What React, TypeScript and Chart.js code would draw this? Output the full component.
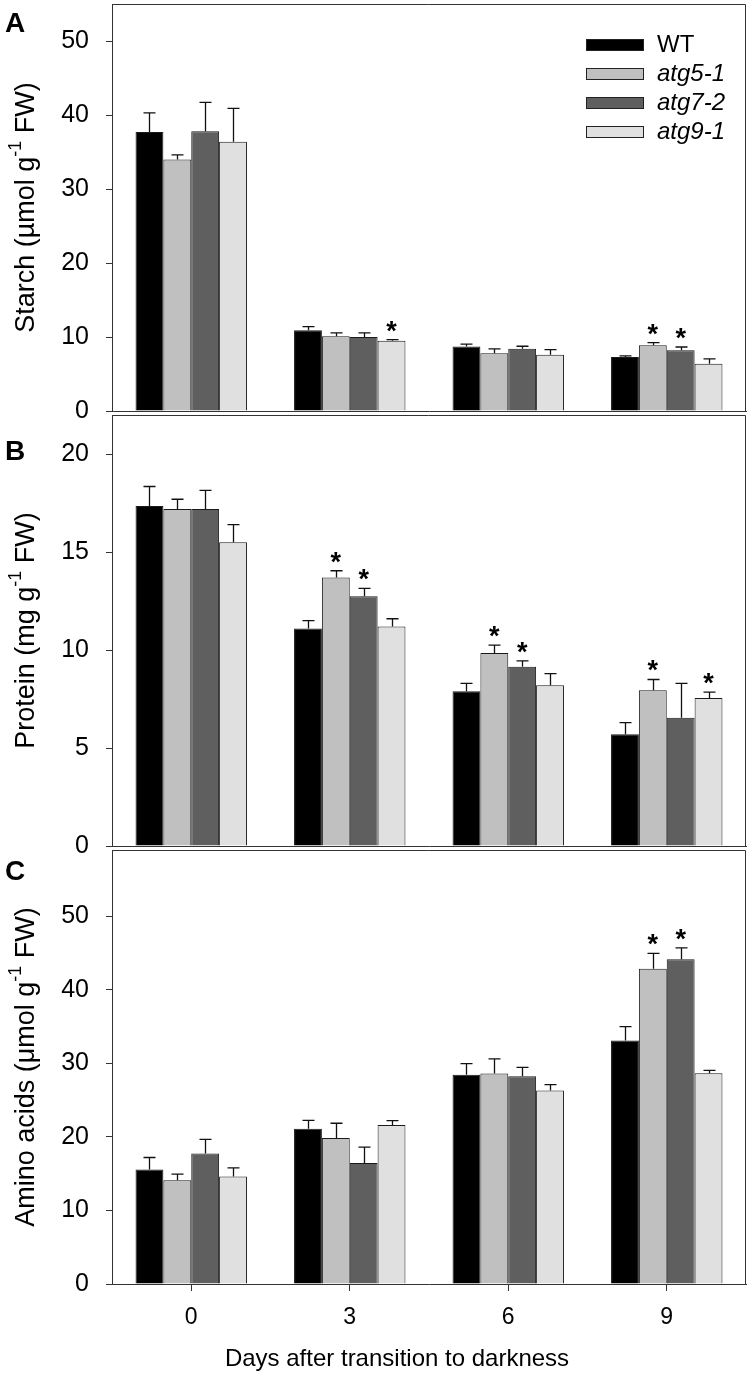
import React, { useEffect, useRef } from 'react';
import { Chart, registerables } from 'chart.js';

Chart.register(...registerables);

const FONT = '"Liberation Sans", Arial, Helvetica, sans-serif';
const PAGE_W = 749;
const PAGE_H = 1376;
const PAD_T = 30;
const PAD_B = 30;

const DAYS = ['0', '3', '6', '9'];
const LINES = ['WT', 'atg5-1', 'atg7-2', 'atg9-1'];
const COLORS = ['#000000', '#c0c0c0', '#5f5f5f', '#e0e0e0'];

// Panel A: starch (µmol g-1 FW)
const STARCH_WT = [37.7, 10.9, 8.7, 7.3];
const STARCH_ATG5 = [34.0, 10.1, 7.8, 8.9];
const STARCH_ATG7 = [37.8, 10.0, 8.4, 8.2];
const STARCH_ATG9 = [36.4, 9.5, 7.6, 6.4];
const STARCH_WT_ERR = [2.6, 0.5, 0.35, 0.15];
const STARCH_ATG5_ERR = [0.6, 0.45, 0.6, 0.35];
const STARCH_ATG7_ERR = [3.9, 0.55, 0.35, 0.45];
const STARCH_ATG9_ERR = [4.5, 0.15, 0.7, 0.65];
const STARCH_WT_SIG = [0, 0, 0, 0];
const STARCH_ATG5_SIG = [0, 0, 0, 1];
const STARCH_ATG7_SIG = [0, 0, 0, 1];
const STARCH_ATG9_SIG = [0, 1, 0, 0];

// Panel B: protein (mg g-1 FW)
const PROTEIN_WT = [17.35, 11.1, 7.9, 5.7];
const PROTEIN_ATG5 = [17.2, 13.7, 9.85, 7.95];
const PROTEIN_ATG7 = [17.2, 12.75, 9.15, 6.55];
const PROTEIN_ATG9 = [15.5, 11.2, 8.2, 7.55];
const PROTEIN_WT_ERR = [1.0, 0.4, 0.4, 0.6];
const PROTEIN_ATG5_ERR = [0.5, 0.35, 0.4, 0.55];
const PROTEIN_ATG7_ERR = [0.95, 0.4, 0.3, 1.75];
const PROTEIN_ATG9_ERR = [0.9, 0.4, 0.6, 0.3];
const PROTEIN_WT_SIG = [0, 0, 0, 0];
const PROTEIN_ATG5_SIG = [0, 1, 1, 1];
const PROTEIN_ATG7_SIG = [0, 1, 1, 0];
const PROTEIN_ATG9_SIG = [0, 0, 0, 1];

// Panel C: amino acids (µmol g-1 FW)
const AMINO_WT = [15.55, 21.1, 28.45, 33.1];
const AMINO_ATG5 = [14.1, 19.85, 28.6, 42.85];
const AMINO_ATG7 = [17.75, 16.45, 28.25, 44.15];
const AMINO_ATG9 = [14.6, 21.6, 26.3, 28.65];
const AMINO_WT_ERR = [1.65, 1.15, 1.5, 1.9];
const AMINO_ATG5_ERR = [0.85, 2.0, 2.0, 2.1];
const AMINO_ATG7_ERR = [1.9, 2.15, 1.2, 1.55];
const AMINO_ATG9_ERR = [1.2, 0.6, 0.8, 0.4];
const AMINO_WT_SIG = [0, 0, 0, 0];
const AMINO_ATG5_SIG = [0, 0, 0, 1];
const AMINO_ATG7_SIG = [0, 0, 0, 1];
const AMINO_ATG9_SIG = [0, 0, 0, 0];

const X_TITLE = 'Days after transition to darkness';

type PanelCfg = {
  letter: string;
  letterBaseline: number;
  plotTop: number;
  plotBottom: number;
  yMax: number;
  step: number;
  titleParts: [string, string, string];
  values: number[][];
  errs: number[][];
  sigs: number[][];
  showX: boolean;
  legend: boolean;
};

const PANELS: PanelCfg[] = [
  {
    letter: 'A', letterBaseline: 32, plotTop: 2, plotBottom: 413, yMax: 55, step: 10,
    titleParts: ['Starch (µmol g', '-1', ' FW)'],
    values: [STARCH_WT, STARCH_ATG5, STARCH_ATG7, STARCH_ATG9],
    errs: [STARCH_WT_ERR, STARCH_ATG5_ERR, STARCH_ATG7_ERR, STARCH_ATG9_ERR],
    sigs: [STARCH_WT_SIG, STARCH_ATG5_SIG, STARCH_ATG7_SIG, STARCH_ATG9_SIG],
    showX: false, legend: true,
  },
  {
    letter: 'B', letterBaseline: 460, plotTop: 413, plotBottom: 848, yMax: 22, step: 5,
    titleParts: ['Protein (mg g', '-1', ' FW)'],
    values: [PROTEIN_WT, PROTEIN_ATG5, PROTEIN_ATG7, PROTEIN_ATG9],
    errs: [PROTEIN_WT_ERR, PROTEIN_ATG5_ERR, PROTEIN_ATG7_ERR, PROTEIN_ATG9_ERR],
    sigs: [PROTEIN_WT_SIG, PROTEIN_ATG5_SIG, PROTEIN_ATG7_SIG, PROTEIN_ATG9_SIG],
    showX: false, legend: false,
  },
  {
    letter: 'C', letterBaseline: 880, plotTop: 848, plotBottom: 1284, yMax: 59, step: 10,
    titleParts: ['Amino acids (μmol g', '-1', ' FW)'],
    values: [AMINO_WT, AMINO_ATG5, AMINO_ATG7, AMINO_ATG9],
    errs: [AMINO_WT_ERR, AMINO_ATG5_ERR, AMINO_ATG7_ERR, AMINO_ATG9_ERR],
    sigs: [AMINO_WT_SIG, AMINO_ATG5_SIG, AMINO_ATG7_SIG, AMINO_ATG9_SIG],
    showX: true, legend: false,
  },
];

function Panel({ cfg }: { cfg: PanelCfg }) {
  const ref = useRef<HTMLCanvasElement>(null);
  const canvasTop = cfg.plotTop - PAD_T;
  const xAxisH = cfg.showX ? PAGE_H - cfg.plotBottom : 0;
  const padB = cfg.showX ? 0 : PAD_B;
  const height = cfg.showX ? PAGE_H - canvasTop : cfg.plotBottom - cfg.plotTop + PAD_T + PAD_B;

  useEffect(() => {
    const canvas = ref.current;
    if (!canvas) return;

    const decor = {
      id: 'decor',
      afterDatasetsDraw(chart: any) {
        const ctx = chart.ctx as CanvasRenderingContext2D;
        const ys = chart.scales.y;
        chart.data.datasets.forEach((ds: any, i: number) => {
          const meta = chart.getDatasetMeta(i);
          meta.data.forEach((bar: any, j: number) => {
            const v = ds.data[j];
            const e = cfg.errs[i][j];
            const yTop = ys.getPixelForValue(v + e);
            const x = Math.round(bar.x) + 0.5;
            ctx.save();
            ctx.strokeStyle = '#111';
            ctx.lineWidth = 1.3;
            ctx.beginPath();
            ctx.moveTo(x, bar.y);
            ctx.lineTo(x, yTop);
            ctx.moveTo(x - 6, yTop);
            ctx.lineTo(x + 6, yTop);
            ctx.stroke();
            if (cfg.sigs[i][j]) {
              ctx.fillStyle = '#000';
              ctx.font = `bold 27px ${FONT}`;
              ctx.textAlign = 'center';
              ctx.textBaseline = 'alphabetic';
              ctx.fillText('*', bar.x, yTop + 0);
            }
            ctx.restore();
          });
        });
      },
      afterDraw(chart: any) {
        const ctx = chart.ctx as CanvasRenderingContext2D;
        const area = chart.chartArea;
        ctx.save();
        // frame: top and right
        ctx.strokeStyle = '#333';
        ctx.lineWidth = 1;
        ctx.beginPath();
        const rx = Math.round(area.right) - 0.5;
        const ty = Math.round(area.top) + 0.5;
        ctx.moveTo(area.left, ty);
        ctx.lineTo(rx, ty);
        ctx.moveTo(rx, ty);
        ctx.lineTo(rx, area.bottom);
        ctx.stroke();

        // panel letter
        ctx.fillStyle = '#000';
        ctx.font = `bold 28px ${FONT}`;
        ctx.textAlign = 'left';
        ctx.textBaseline = 'alphabetic';
        ctx.fillText(cfg.letter, 5, cfg.letterBaseline - canvasTop);

        // y title with superscript
        const cy = (area.top + area.bottom) / 2;
        const cx = 27;
        const mainFont = `27px ${FONT}`;
        const supFont = `18px ${FONT}`;
        ctx.font = mainFont;
        const w0 = ctx.measureText(cfg.titleParts[0]).width;
        const w2 = ctx.measureText(cfg.titleParts[2]).width;
        ctx.font = supFont;
        const w1 = ctx.measureText(cfg.titleParts[1]).width;
        const total = w0 + w1 + w2;
        ctx.translate(cx, cy);
        ctx.rotate(-Math.PI / 2);
        ctx.textAlign = 'left';
        ctx.textBaseline = 'middle';
        let pos = -total / 2;
        ctx.font = mainFont;
        ctx.fillText(cfg.titleParts[0], pos, 0);
        pos += w0;
        ctx.font = supFont;
        ctx.fillText(cfg.titleParts[1], pos, -11);
        pos += w1;
        ctx.font = mainFont;
        ctx.fillText(cfg.titleParts[2], pos, 0);
        ctx.restore();

        // legend
        if (cfg.legend) {
          ctx.save();
          const rows = [44, 73.3, 102.7, 131.7];
          LINES.forEach((name, i) => {
            const yc = rows[i] - canvasTop;
            ctx.fillStyle = COLORS[i];
            ctx.fillRect(586.5, Math.round(yc - 5.5) + 0.5, 57, 11);
            ctx.strokeStyle = '#222';
            ctx.lineWidth = 1;
            ctx.strokeRect(586.5, Math.round(yc - 5.5) + 0.5, 57, 11);
            ctx.fillStyle = '#000';
            ctx.font = `${i === 0 ? '' : 'italic '}24px ${FONT}`;
            ctx.textAlign = 'left';
            ctx.textBaseline = 'middle';
            ctx.fillText(name, 657, yc + 1);
          });
          ctx.restore();
        }

        // x title
        if (cfg.showX) {
          ctx.save();
          ctx.fillStyle = '#000';
          ctx.font = `24px ${FONT}`;
          ctx.textAlign = 'center';
          ctx.textBaseline = 'alphabetic';
          ctx.fillText(X_TITLE, 397, 1366 - canvasTop);
          ctx.restore();
        }
      },
    };

    const chart = new Chart(canvas, {
      type: 'bar',
      data: {
        labels: DAYS,
        datasets: LINES.map((name, i) => ({
          label: name,
          data: cfg.values[i],
          backgroundColor: COLORS[i],
          borderColor: '#1a1a1a',
          borderWidth: 1,
          barPercentage: 1,
          categoryPercentage: 0.703,
        })),
      },
      options: {
        animation: false,
        responsive: false,
        devicePixelRatio: 1,
        layout: { padding: { top: PAD_T, bottom: padB, left: 0, right: 3 } },
        plugins: {
          legend: { display: false },
          tooltip: { enabled: false },
          title: { display: false },
        },
        scales: {
          x: {
            type: 'category',
            offset: true,
            grid: {
              display: cfg.showX,
              drawOnChartArea: false,
              drawTicks: true,
              tickLength: 7,
              offset: false,
              color: '#333',
            },
            border: { display: true, color: '#333', width: 1 },
            ticks: {
              display: cfg.showX,
              font: { family: FONT, size: 23 },
              color: '#000',
              padding: 13,
              maxRotation: 0,
            },
            afterFit: (s: any) => {
              s.height = xAxisH;
            },
          },
          y: {
            min: 0,
            max: cfg.yMax,
            ticks: {
              stepSize: cfg.step,
              font: { family: FONT, size: 25 },
              color: '#000',
              padding: 17,
            },
            grid: {
              drawOnChartArea: false,
              drawTicks: true,
              tickLength: 6,
              color: '#333',
            },
            border: { display: true, color: '#333', width: 1 },
            afterFit: (s: any) => {
              s.width = 112;
            },
            afterBuildTicks: (s: any) => {
              s.ticks = s.ticks.filter(
                (t: any) => Math.abs(t.value / cfg.step - Math.round(t.value / cfg.step)) < 1e-6
              );
            },
          },
        },
      },
      plugins: [decor],
    } as any);

    return () => chart.destroy();
  }, []);

  return (
    <canvas
      ref={ref}
      width={PAGE_W}
      height={height}
      style={{ position: 'absolute', left: 0, top: canvasTop, width: PAGE_W, height }}
    />
  );
}

export default function App() {
  return (
    <div
      style={{
        position: 'absolute',
        left: 0,
        top: 0,
        width: PAGE_W,
        height: PAGE_H,
        background: '#fff',
        overflow: 'hidden',
      }}
    >
      {PANELS.map((p) => (
        <Panel key={p.letter} cfg={p} />
      ))}
    </div>
  );
}
